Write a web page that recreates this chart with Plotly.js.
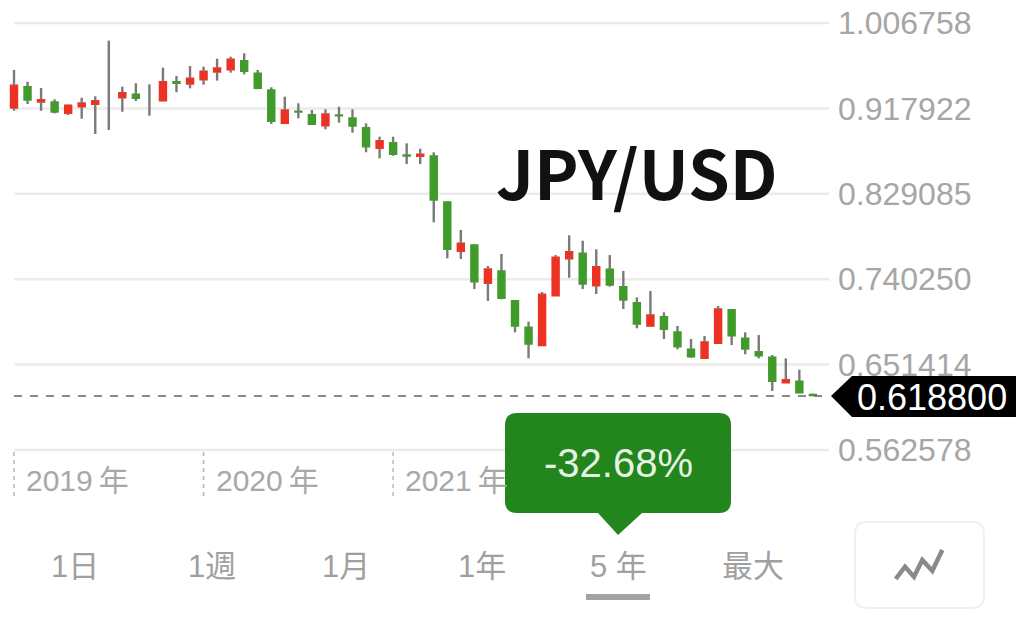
<!DOCTYPE html>
<html><head><meta charset="utf-8">
<script src="https://cdn.plot.ly/plotly-3.0.1.min.js"></script>
<style>html,body{margin:0;padding:0;background:#fff;overflow:hidden}#c{width:1019px;height:632px}</style>
</head><body><div id="c"></div>
<script>
const opens=[.9184,.9405,.9246,.9246,.9128,.9197,.9222,null,.9291,.9326,null,.9260,.9457,.9433,.9478,.9558,.9582,.9676,.9545,.9371,.9024,.9149,.9114,.8999,.9111,.9080,.8979,.8764,.8823,.8695,.8681,.8684,.8206,.7693,.7759,.7360,.7488,.7179,.6902,.6713,.7231,.7616,.7672,.7335,.7506,.7325,.7158,.6916,.7013,.6854,.6674,.6580,.6736,.7085,.6788,.6649,.6590,.6326,.6341,.6203];
const closes=[.9420,.9267,.9270,.9142,.9212,.9236,.9260,null,.9343,.9284,null,.9457,.9441,.9493,.9565,.9600,.9690,.9565,.9388,.9045,.9163,.9142,.9014,.9121,.9103,.8996,.8781,.8843,.8702,.8684,.8702,.8227,.7714,.7776,.7377,.7509,.7204,.6916,.6729,.7246,.7631,.7689,.7353,.7533,.7342,.7186,.6937,.7030,.6882,.6701,.6597,.6750,.7093,.6815,.6677,.6607,.6341,.6357,.6222,.6193];
const highs=[.9579,.9457,.9392,.9274,.9218,.9291,.9305,.9884,.9405,.9441,.9430,.9603,.9516,.9620,.9613,.9696,.9717,.9753,.9579,.9399,.9301,.9232,.9163,.9170,.9197,.9170,.9024,.8885,.8885,.8816,.8760,.8723,.8213,.7915,.7766,.7540,.7665,.7186,.6961,.7270,.7654,.7859,.7803,.7714,.7654,.7488,.7214,.7280,.7058,.6916,.6781,.6812,.7124,.7090,.6850,.6822,.6614,.6580,.6461,.6212];
const lows=[.9155,.9225,.9155,.9128,.9111,.9072,.8913,.8955,.9145,.9256,.9103,.9253,.9347,.9388,.9426,.9468,.9551,.9534,.9378,.9017,.9024,.9076,.9007,.8962,.9031,.8927,.8723,.8660,.8687,.8601,.8601,.7995,.7620,.7613,.7301,.7176,.7194,.6850,.6580,.6711,.7231,.7418,.7301,.7249,.7325,.7093,.6892,.6909,.6781,.6674,.6586,.6580,.6736,.6718,.6622,.6580,.6240,.6326,.6216,.6188];
const yTicks=[1.006758,0.917922,0.829085,0.740250,0.651414,0.562578];
const yTickLabels=['1.006758','0.917922','0.829085','0.740250','0.651414','0.562578'];
const lastPrice=0.6188;
const yearIdx=[0,14,28];
const yearLabels=['2019\u2009年','2020\u2009年','2021\u2009年'];
const tabs=['1日','1週','1月','1年','5 年','最大'];
const tabX=[75,212,346,482,618,753];

const W=829,H=632;
const px=x=>x/W, py=y=>1-y/H;
const n=opens.length, idx=opens.map((_,i)=>i);
const wx=[],wy=[];
for(let i=0;i<n;i++){
  if(opens[i]===null){wx.push(i,i,null);wy.push(highs[i],lows[i],null);continue;}
  const t=Math.max(opens[i],closes[i]),b=Math.min(opens[i],closes[i]);
  wx.push(i,i,null,i,i,null);wy.push(highs[i],t,null,b,lows[i],null);
}
const traces=[
 {type:'scatter',mode:'lines',x:wx,y:wy,line:{color:'#7a7a7a',width:2.4},hoverinfo:'skip',connectgaps:false},
 {type:'candlestick',x:idx,open:opens,close:closes,
  high:opens.map((o,i)=>o===null?null:Math.max(o,closes[i])),
  low:opens.map((o,i)=>o===null?null:Math.min(o,closes[i])),
  increasing:{line:{color:'#ec3323',width:1.5},fillcolor:'#ec3323'},
  decreasing:{line:{color:'#409c2a',width:1.5},fillcolor:'#409c2a'},
  whiskerwidth:0,hoverinfo:'skip'}
];
const shapes=[];
yTicks.forEach(v=>shapes.push({type:'line',layer:'below',xref:'paper',yref:'y',x0:px(14),x1:1,y0:v,y1:v,line:{color:'#ebebeb',width:2.5}}));
shapes.push({type:'line',layer:'below',xref:'paper',yref:'y',x0:px(14),x1:1,y0:lastPrice,y1:lastPrice,line:{color:'#8a8a8a',width:2,dash:'8px,8px'}});
yearIdx.forEach(i=>shapes.push({type:'line',xref:'x',yref:'paper',x0:i,x1:i,y0:py(452),y1:py(498),line:{color:'#b5b5b5',width:1.5,dash:'4px,4px'}}));
const P=(x,y)=>px(x)+','+py(y);
shapes.push({type:'path',xref:'paper',yref:'paper',fillcolor:'#000',line:{width:0},
 path:'M'+P(831,396)+'L'+P(852,376)+'L'+P(1016,376)+'L'+P(1016,417)+'L'+P(852,417)+'Z'});
shapes.push({type:'path',xref:'paper',yref:'paper',fillcolor:'#23861c',line:{width:0},
 path:'M'+P(517,413)+'L'+P(719,413)+'Q'+P(731,413)+' '+P(731,425)+'L'+P(731,501)+'Q'+P(731,513)+' '+P(719,513)+'L'+P(642,513)+'L'+P(618,535)+'L'+P(598,513)+'L'+P(517,513)+'Q'+P(505,513)+' '+P(505,501)+'L'+P(505,425)+'Q'+P(505,413)+' '+P(517,413)+'Z'});
shapes.push({type:'rect',xref:'paper',yref:'paper',x0:px(586),x1:px(650),y0:py(594),y1:py(600),fillcolor:'#a3a3a3',line:{width:0}});
shapes.push({type:'path',xref:'paper',yref:'paper',fillcolor:'#fff',line:{color:'#f0f0f0',width:2},
 path:'M'+P(867,522)+'L'+P(972,522)+'Q'+P(984,522)+' '+P(984,534)+'L'+P(984,596)+'Q'+P(984,608)+' '+P(972,608)+'L'+P(867,608)+'Q'+P(855,608)+' '+P(855,596)+'L'+P(855,534)+'Q'+P(855,522)+' '+P(867,522)+'Z'});
shapes.push({type:'path',xref:'paper',yref:'paper',line:{color:'#8a8a8a',width:4.5},
 path:'M'+P(895.7,579)+'L'+P(905,566.7)+'L'+P(914,576.7)+'L'+P(922.3,560)+'L'+P(932.3,570.7)+'L'+P(942.3,550)});

const sans='"Liberation Sans","Noto Sans CJK JP",sans-serif';
const ann=(text,x,y,size,color,extra)=>Object.assign({text,xref:'paper',yref:'paper',x:px(x),y:py(y),xanchor:'center',yanchor:'middle',showarrow:false,font:{family:sans,size,color}},extra||{});
const annotations=[
 ann('0.618800',932,397,36,'#ffffff'),
 ann('-32.68%',618,463,40,'#e6f3e4'),
 ann('JPY/USD',637,170,67,'#111111',{font:{family:'"Noto Sans CJK JP"',size:67,color:'#111111',weight:700}})
];
yearIdx.forEach((i,k)=>annotations.push({text:yearLabels[k],xref:'x',yref:'paper',x:i,y:py(480),xanchor:'left',yanchor:'middle',xshift:10,showarrow:false,font:{family:sans,size:30,color:'#a8a8a8'}}));
tabs.forEach((t,k)=>annotations.push(ann(t,tabX[k],566,31,'#a0a0a0')));

Plotly.newPlot('c',traces,{
 width:1019,height:632,showlegend:false,paper_bgcolor:'#fff',plot_bgcolor:'#fff',hovermode:false,
 margin:{l:0,r:190,t:0,b:0,pad:0},boxgap:0.27,
 xaxis:{range:[-1.034,60.19],showgrid:false,zeroline:false,showticklabels:false,ticks:'',showline:false,rangeslider:{visible:false},fixedrange:true},
 yaxis:{range:[0.3733,1.030683],side:'right',tickmode:'array',tickvals:yTicks,ticktext:yTickLabels,showgrid:false,zeroline:false,showline:false,ticks:'',ticklabelstandoff:8,tickfont:{family:sans,size:32,color:'#a6a6a6'},fixedrange:true,automargin:false},
 shapes,annotations
},{staticPlot:true,displayModeBar:false});
</script></body></html>
